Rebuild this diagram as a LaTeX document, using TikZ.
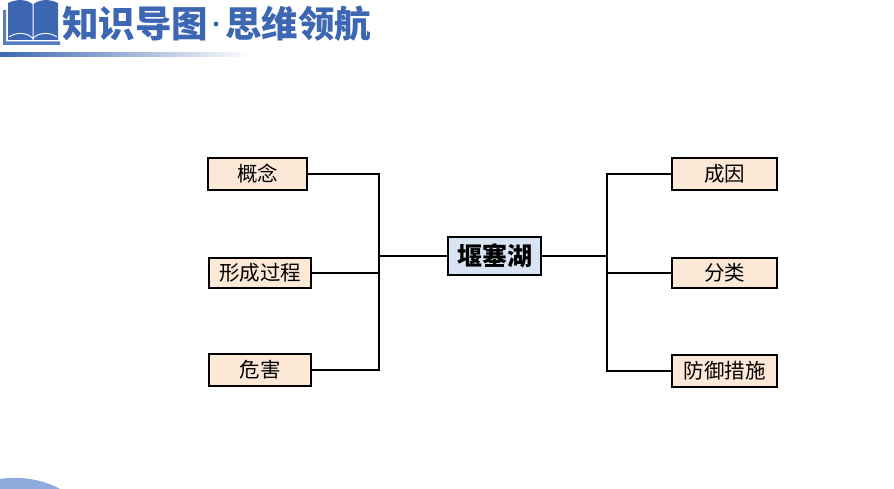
\documentclass[tikz,border=0pt]{standalone}
\usepackage{fontspec}
\setmainfont{Noto Sans CJK SC}
\definecolor{titleblue}{RGB}{61,103,178}
\definecolor{arcblue}{RGB}{143,170,220}
\definecolor{leafbg}{RGB}{252,232,214}
\definecolor{rootbg}{RGB}{218,227,243}
\usetikzlibrary{positioning,calc}

\begin{document}
\begin{tikzpicture}[
      x=1pt, y=-1pt,
      leaf/.style={draw, line width=1.9pt, fill=leafbg, minimum width=102pt, minimum height=32pt,
                  inner sep=0pt, text centered, font=\fontsize{20.5}{20.5}\selectfont},
      root/.style={draw, line width=1.9pt, fill=rootbg, minimum width=93pt, minimum height=38pt,
                  inner sep=0pt, text centered, font=\fontsize{25}{25}\selectfont\bfseries},
      arm/.style={line width=1.9pt},
      headtext/.style={inner sep=0pt, text=titleblue, font=\fontsize{36.5}{36.5}\selectfont\bfseries}
    ]
      \useasboundingbox (0,0) rectangle (894,489);

      % header
      \fill[titleblue!85] (3,10) -- (3,45) -- (60,45) -- (60,41.5) -- (6,41.5) -- (6,10) -- cycle;
      \fill[titleblue] (8,3) .. controls (16,-1) and (26,-1) .. (32.5,4) -- (32.5,40) -- (8,40) -- cycle;
      \fill[titleblue] (33.5,4) .. controls (40,-1) and (50,-1) .. (58,3) -- (58,40) -- (33.5,40) -- cycle;
      \draw[white, line width=0.9pt] (9,37) .. controls (16,32) and (27,32) .. (33,38.5) .. controls (39,32) and (50,32) .. (57,37);
      \shade[left color=titleblue, right color=white] (0,53) rectangle (253,57);
      \node[headtext, anchor=west] (head1) at (62,24) {知识导图};
      \node[headtext, anchor=west] (head3) at (225,24) {思维领航};
      \fill[titleblue] (216,24) circle (2.5pt);

      % corner arc
      \fill[arcblue] (0,489) -- (0,479) .. controls (20,476) and (42,479) .. (60,489) -- cycle;

      % boxes
      \node[root] (lake) at (494.5,256) {堰塞湖};
      \node[leaf, minimum width=99pt] (concept) at (257.5,174) {概念};
      \node[leaf, minimum height=30pt] (process) at (260,273) {形成过程};
      \node[leaf] (harm) at (260,370) {危害};
      \node[leaf, minimum width=105pt] (cause) at (724.5,174) {成因};
      \node[leaf, minimum width=105pt, minimum height=30pt] (kinds) at (724.5,273) {分类};
      \node[leaf, minimum width=105pt] (defence) at (724.5,371) {防御措施};

      \coordinate (ljoin) at (379,256);
      \coordinate (rjoin) at (607,256);

      % connectors
      \draw[arm] (lake) -- (ljoin);
      \draw[arm] (lake) -- (rjoin);
      \draw[arm] (concept.east) -| (ljoin);
      \draw[arm] (process.east) -| (ljoin);
      \draw[arm] (harm.east) -| (ljoin);
      \draw[arm] (cause.west) -| (rjoin);
      \draw[arm] (kinds.west) -| (rjoin);
      \draw[arm] (defence.west) -| (rjoin);
    \end{tikzpicture}
\end{document}
